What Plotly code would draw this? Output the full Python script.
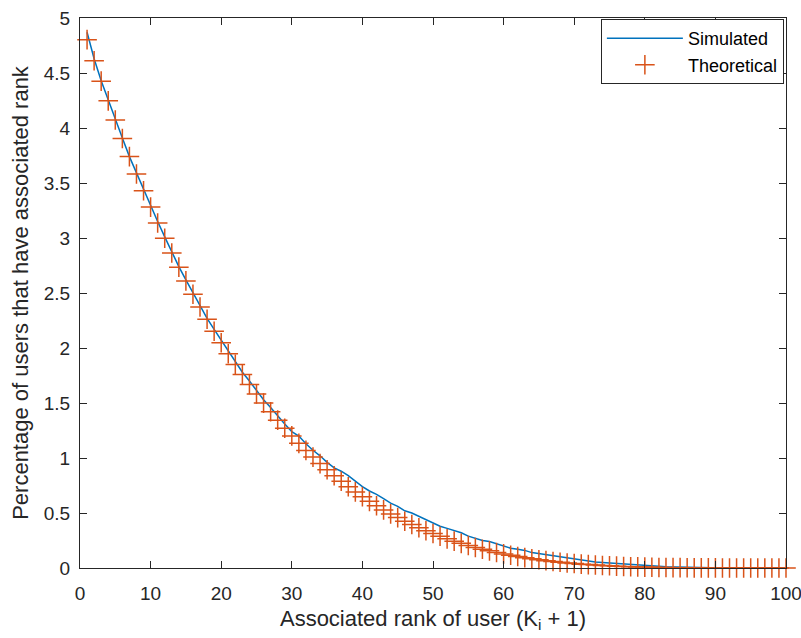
import plotly.graph_objects as go

rank = list(range(1, 101))

theoretical = [
    4.803, 4.612, 4.426, 4.247, 4.073, 3.904, 3.740, 3.582, 3.429, 3.281,
    3.137, 2.998, 2.864, 2.735, 2.610, 2.489, 2.373, 2.261, 2.152, 2.048,
    1.948, 1.851, 1.758, 1.668, 1.582, 1.499, 1.420, 1.344, 1.271, 1.201,
    1.133, 1.069, 1.008, 0.949, 0.893, 0.839, 0.788, 0.739, 0.692, 0.648,
    0.606, 0.566, 0.528, 0.492, 0.458, 0.425, 0.395, 0.366, 0.338, 0.313,
    0.288, 0.265, 0.244, 0.224, 0.205, 0.187, 0.171, 0.156, 0.141, 0.128,
    0.116, 0.104, 0.094, 0.084, 0.075, 0.067, 0.059, 0.052, 0.046, 0.041,
    0.035, 0.031, 0.027, 0.023, 0.020, 0.017, 0.014, 0.012, 0.010, 0.008,
    0.007, 0.005, 0.004, 0.003, 0.003, 0.002, 0.001, 0.001, 0.001, 0.001,
    0.0, 0.0, 0.0, 0.0, 0.0, 0.0, 0.0, 0.0, 0.0, 0.0,
]

simulated = [
    4.87, 4.63, 4.43, 4.25, 4.07, 3.91, 3.74, 3.59, 3.44, 3.29,
    3.15, 3.01, 2.87, 2.74, 2.62, 2.50, 2.38, 2.27, 2.17, 2.07,
    1.97, 1.87, 1.78, 1.70, 1.61, 1.53, 1.46, 1.38, 1.31, 1.24,
    1.20, 1.13, 1.07, 1.02, 0.96, 0.91, 0.88, 0.84, 0.79, 0.74,
    0.70, 0.67, 0.63, 0.59, 0.56, 0.52, 0.50, 0.47, 0.44, 0.41,
    0.38, 0.36, 0.34, 0.32, 0.29, 0.27, 0.25, 0.24, 0.22, 0.20,
    0.18, 0.17, 0.16, 0.14, 0.13, 0.12, 0.11, 0.10, 0.09, 0.08,
    0.07, 0.065, 0.055, 0.05, 0.045, 0.04, 0.035, 0.03, 0.025, 0.02,
    0.018, 0.015, 0.012, 0.01, 0.008, 0.006, 0.005, 0.004, 0.003, 0.002,
    0.001, 0.001, 0.001, 0.0, 0.0, 0.0, 0.0, 0.0, 0.0, 0.0,
]

x_ticks = [0, 10, 20, 30, 40, 50, 60, 70, 80, 90, 100]
y_ticks = [0, 0.5, 1, 1.5, 2, 2.5, 3, 3.5, 4, 4.5, 5]
y_tick_labels = ["0", "0.5", "1", "1.5", "2", "2.5", "3", "3.5", "4", "4.5", "5"]

FONT = "Liberation Sans, Arial, Helvetica, sans-serif"
AX = "#262626"

fig = go.Figure()
fig.add_trace(go.Scatter(
    x=rank, y=simulated, mode="lines", name="Simulated",
    line=dict(color="#0072BD", width=1.5), cliponaxis=False,
))
fig.add_trace(go.Scatter(
    x=rank, y=theoretical, mode="markers", name="Theoretical",
    marker=dict(symbol="cross-thin", size=14, color="#D95319",
                line=dict(color="#D95319", width=1.5)),
    cliponaxis=False,
))

axis_common = dict(
    showgrid=False, zeroline=False, showline=True, linecolor=AX, linewidth=1,
    mirror="ticks", ticks="inside", ticklen=7, tickwidth=1, tickcolor=AX,
    tickfont=dict(family=FONT, size=19, color=AX), automargin=False,
    ticklabeloverflow="allow",
)

fig.update_layout(
    template="none",
    width=801, height=638,
    margin=dict(l=80, r=15, t=18, b=70),
    paper_bgcolor="white", plot_bgcolor="white",
    font=dict(family=FONT, color=AX),
    xaxis=dict(range=[0, 100], tickvals=x_ticks, ticklabelstandoff=8,
               title=dict(text="Associated rank of user (K<sub>i</sub> + 1)",
                          font=dict(family=FONT, size=22, color=AX), standoff=7),
               **axis_common),
    yaxis=dict(range=[0, 5], tickvals=y_ticks, ticktext=y_tick_labels,
               ticklabelstandoff=5,
               title=dict(text="Percentage of users that have associated rank",
                          font=dict(family=FONT, size=22, color=AX), standoff=9),
               **axis_common),
    legend=dict(x=0.997, y=0.998, xanchor="right", yanchor="top",
                bgcolor="white", bordercolor=AX, borderwidth=1,
                itemwidth=76, tracegroupgap=0,
                font=dict(family=FONT, size=18, color="black")),
    showlegend=True,
)

fig.write_html("out.html")
